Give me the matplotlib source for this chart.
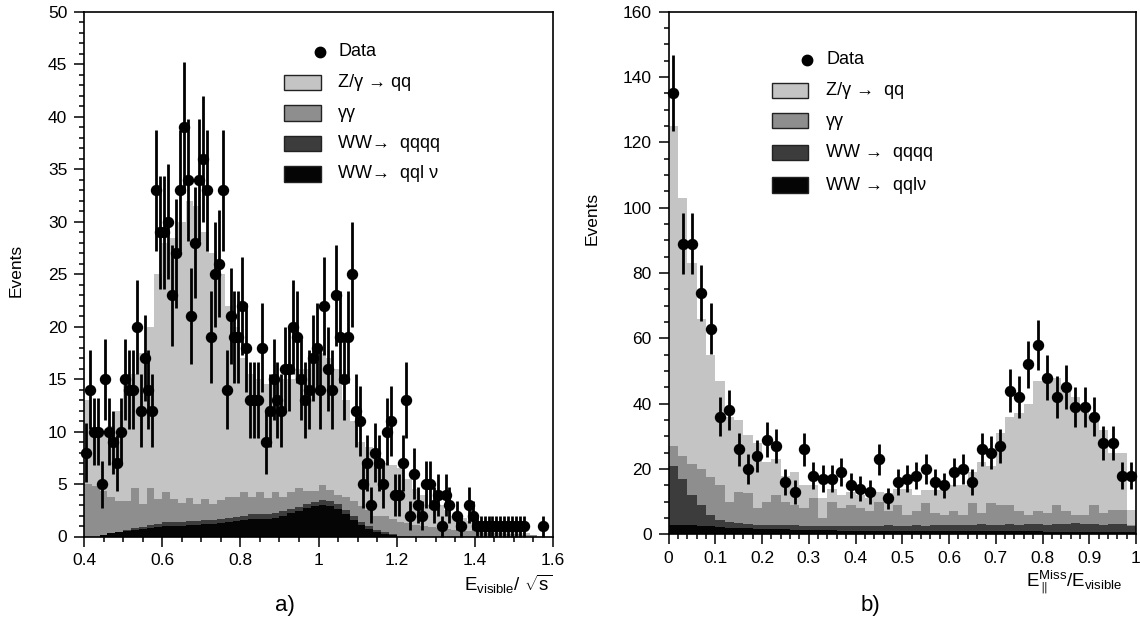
import matplotlib
matplotlib.use('Agg')
import matplotlib.pyplot as plt
import numpy as np
from matplotlib.patches import Rectangle
from matplotlib.lines import Line2D
from matplotlib.ticker import MultipleLocator, FuncFormatter

plt.rcParams['font.family'] = ['Liberation Sans', 'DejaVu Sans']
plt.rcParams['mathtext.fontset'] = 'custom'
plt.rcParams['mathtext.rm'] = 'Liberation Sans'
plt.rcParams['mathtext.it'] = 'Liberation Sans:italic'

# ---- panel a): E_visible / sqrt(s), data in bins of 0.01 from 0.40
data_a = [8, 14, 10, 10, 5, 15, 10, 9, 7, 10,
          15, 14, 14, 20, 12, 17, 14, 12, 33, 29,
          29, 30, 23, 27, 33, 39, 34, 21, 28, 34,
          36, 33, 19, 25, 26, 33, 14, 21, 19, 19,
          22, 18, 13, 13, 13, 18, 9, 12, 15, 13,
          12, 16, 16, 20, 19, 15, 13, 14, 17, 18,
          14, 22, 16, 14, 23, 19, 15, 19, 25, 12,
          11, 5, 7, 3, 8, 7, 5, 10, 11, 4,
          4, 7, 13, 2, 6, 3, 2, 5, 5, 3,
          4, 1, 4, 3, 0, 2, 1, 0, 3, 2,
          1, 1, 1, 1, 1, 1, 1, 1, 1, 1,
          1, 1, 1, 0, 0, 0, 0, 1]

# stacked MC heights (cumulative), bins of 0.02 from 0.40 to 1.60
top_zqq_a = [13, 10, 10, 10.5, 12, 15, 15.5, 17.5, 20, 25,
             28, 28.5, 30, 32, 31.5, 29, 27, 25, 22, 20,
             17, 15.5, 15, 14.5, 14.5, 15, 15, 16, 16, 17.5,
             17.5, 17, 16, 13, 11, 9, 8.5, 7.5, 7, 6.8,
             6.5, 5.5, 4.5, 4, 3, 3, 2.5, 2, 1.8, 1.5,
             0.8, 0.6, 0.6, 0.5, 0.5, 0.4, 0.3, 0.1, 0, 0]
top_gg_a = [5.0, 4.8, 4.3, 3.8, 3.4, 3.4, 4.6, 3.1, 4.6, 3.6,
            4.2, 3.6, 3.2, 3.7, 3.1, 3.6, 3.1, 3.5, 3.8, 3.8,
            4.2, 3.8, 4.2, 3.7, 4.2, 3.8, 4.2, 4.6, 4.3, 4.3,
            4.9, 4.4, 4.0, 3.8, 3.4, 2.9, 2.5, 2.0, 2.0, 1.7,
            1.4, 1.3, 1.1, 1.0, 0.9, 0.8, 0.7, 0.6, 0.5, 0.5,
            0.4, 0.3, 0.3, 0.3, 0.2, 0.2, 0.1, 0.1, 0, 0]
top_qqqq_a = [0, 0, 0.1, 0.3, 0.4, 0.6, 0.8, 0.9, 1.1, 1.2,
              1.4, 1.4, 1.4, 1.5, 1.5, 1.6, 1.6, 1.7, 1.8, 1.9,
              2.0, 2.1, 2.1, 2.1, 2.2, 2.4, 2.6, 2.8, 3.1, 3.3,
              3.5, 3.4, 3.1, 2.5, 2.0, 1.4, 1.0, 0.6, 0.4, 0.2,
              0, 0, 0, 0, 0, 0, 0, 0, 0, 0,
              0, 0, 0, 0, 0, 0, 0, 0, 0, 0]
top_qqlv_a = [0, 0, 0.1, 0.3, 0.4, 0.5, 0.6, 0.7, 0.8, 0.9,
              1.0, 1.0, 1.0, 1.1, 1.1, 1.2, 1.2, 1.3, 1.4, 1.5,
              1.6, 1.7, 1.7, 1.7, 1.8, 2.0, 2.2, 2.4, 2.7, 2.9,
              3.0, 2.9, 2.6, 2.1, 1.6, 1.1, 0.7, 0.4, 0.2, 0.1,
              0, 0, 0, 0, 0, 0, 0, 0, 0, 0,
              0, 0, 0, 0, 0, 0, 0, 0, 0, 0]

# ---- panel b): E_miss_par / E_visible, bins of 0.02 from 0 to 1
data_b = [135, 89, 89, 74, 63, 36, 38, 26, 20, 24,
          29, 27, 16, 13, 26, 18, 17, 17, 19, 15,
          14, 13, 23, 11, 16, 17, 18, 20, 16, 15,
          19, 20, 16, 26, 25, 27, 44, 42, 52, 58,
          48, 42, 45, 39, 39, 36, 28, 28, 18, 18]
top_zqq_b = [125, 103, 83, 66, 55, 47, 36, 35, 30.5, 28,
             22, 23, 18, 19, 15, 15, 11, 14, 12, 13,
             12, 11, 13, 12.5, 14, 14, 12, 13.5, 13.5, 13.5,
             15, 15, 19, 22, 21, 31, 36, 37, 40, 47,
             47, 48, 44, 42, 39, 35, 32, 25, 25, 7.5]
top_gg_b = [27, 24, 21.5, 20, 17.5, 15, 10, 13, 12.5, 8,
            10, 12, 10, 9, 8, 11, 5, 10, 8, 9,
            8, 7, 10, 7, 9, 6, 7, 9.5, 6.5, 6,
            7, 6, 9.5, 6.5, 9.5, 9, 9, 7, 6, 7,
            6.5, 9, 7, 6, 6, 9, 6.5, 7.5, 7.5, 3]
top_qqqq_b = [21, 17, 12, 9, 6, 4.5, 3.8, 3.4, 3.2, 3.0,
              3.0, 2.8, 2.8, 2.7, 2.6, 2.6, 2.5, 2.5, 2.4, 2.4,
              2.5, 2.6, 2.4, 2.8, 2.6, 2.5, 2.7, 2.6, 2.8, 2.9,
              2.7, 3.0, 2.9, 3.1, 2.8, 3.0, 3.2, 3.0, 3.1, 3.3,
              3.0, 3.2, 3.1, 3.4, 3.2, 3.3, 3.0, 3.2, 3.1, 2.5]
top_qqlv_b = [3.0, 3.0, 2.8, 2.6, 2.4, 2.2, 2.0, 1.9, 1.8, 1.7,
              1.6, 1.5, 1.5, 1.4, 1.3, 1.3, 1.2, 1.2, 1.1, 1.1,
              1.0, 1.0, 1.0, 1.0, 1.0, 1.0, 1.0, 1.0, 1.0, 1.0,
              0.9, 0.9, 0.9, 0.9, 0.9, 0.9, 0.9, 0.9, 0.9, 0.9,
              0.8, 0.8, 0.8, 0.8, 0.8, 0.8, 0.8, 0.8, 0.8, 0.8]

legend_labels_a = ['Data', 'Z/\u03b3 \u2192 qq', '\u03b3\u03b3',
                   'WW\u2192  qqqq', 'WW\u2192  qql \u03bd']
legend_labels_b = ['Data', 'Z/\u03b3 \u2192  qq', '\u03b3\u03b3',
                   'WW \u2192  qqqq', 'WW \u2192  qql\u03bd']

c_zqq = '#c4c4c4'
c_gg = '#8e8e8e'
c_qqqq = '#3c3c3c'
c_qqlv = '#050505'
fills = [c_zqq, c_gg, c_qqqq, c_qqlv]

W, H = 1140, 630
fig = plt.figure(figsize=(W / 100, H / 100), dpi=100)


def draw_panel(rect, edges, stacks, data_edges, data, xlim, ylim,
               xmaj, xmin, ymaj, ymin):
    ax = fig.add_axes(rect)
    for vals, col in zip(stacks, fills):
        ax.stairs(vals, edges, fill=True, color=col, lw=0)
    counts = np.asarray(data, dtype=float)
    centers = 0.5 * (data_edges[:-1] + data_edges[1:])
    keep = counts > 0
    ax.errorbar(centers[keep], counts[keep], yerr=np.sqrt(counts[keep]),
                fmt='o', color='black', ms=7.2, elinewidth=2,
                capsize=0, zorder=5, clip_on=False)
    ax.set_xlim(*xlim)
    ax.set_ylim(*ylim)
    ax.xaxis.set_major_locator(MultipleLocator(xmaj))
    ax.xaxis.set_minor_locator(MultipleLocator(xmin))
    ax.yaxis.set_major_locator(MultipleLocator(ymaj))
    ax.yaxis.set_minor_locator(MultipleLocator(ymin))
    ax.xaxis.set_major_formatter(FuncFormatter(lambda v, p: '%g' % round(v, 3)))
    ax.tick_params(which='both', direction='out', top=False, right=False,
                   labelsize=12.5, width=1.1, pad=5)
    ax.tick_params(which='major', length=7)
    ax.tick_params(which='minor', length=3.5)
    for s in ax.spines.values():
        s.set_linewidth(1.2)
    return ax


def fx(px):
    return px / W


def fy(py):
    return 1 - py / H


def draw_legend(labels, mark_x, sw_x0, sw_x1, text_x, data_y, rows_y):
    fig.add_artist(Line2D([fx(mark_x)], [fy(data_y)], marker='o', ms=7.5,
                          color='black', ls='none', transform=fig.transFigure))
    fig.text(fx(text_x), fy(data_y), labels[0], fontsize=13, va='center')
    for lab, ry, col in zip(labels[1:], rows_y, fills):
        fig.add_artist(Rectangle((fx(sw_x0), fy(ry + 7.5)), fx(sw_x1 - sw_x0),
                                 15 / H, facecolor=col, edgecolor='#222222',
                                 lw=1, transform=fig.transFigure))
        fig.text(fx(text_x), fy(ry), lab, fontsize=13, va='center')


edges_a = np.linspace(0.4, 1.6, len(top_zqq_a) + 1)
dedges_a = np.linspace(0.4, 0.4 + 0.01 * len(data_a), len(data_a) + 1)
ax_a = draw_panel([84 / W, 93.5 / H, 469 / W, 524.5 / H], edges_a,
                  [top_zqq_a, top_gg_a, top_qqqq_a, top_qqlv_a],
                  dedges_a, data_a, (0.4, 1.6), (0, 50), 0.2, 0.05, 5, 1)

edges_b = np.linspace(0, 1, len(top_zqq_b) + 1)
ax_b = draw_panel([668.5 / W, 95.7 / H, 467.5 / W, 522.6 / H], edges_b,
                  [top_zqq_b, top_gg_b, top_qqqq_b, top_qqlv_b],
                  edges_b, data_b, (0, 1), (0, 160), 0.1, 0.02, 20, 5)

draw_legend(legend_labels_a, 320, 284, 321, 338, 52, [82.5, 113, 143.5, 174])
draw_legend(legend_labels_b, 807, 772, 808, 826, 60, [90.5, 121, 152.5, 185])

fig.text(fx(16), fy(270), 'Events', rotation=90, fontsize=12.5,
         ha='center', va='center')
fig.text(fx(592), fy(218), 'Events', rotation=90, fontsize=12.5,
         ha='center', va='center')
fig.text(fx(553), fy(584), r'E$_{\mathrm{visible}}$/ $\sqrt{\mathrm{s}}$',
         fontsize=13.5, ha='right', va='center')
fig.text(fx(1122), fy(582),
         r'E$_{\parallel}^{\mathrm{Miss}}$/E$_{\mathrm{visible}}$',
         fontsize=13.5, ha='right', va='center')
fig.text(fx(285), fy(605), 'a)', fontsize=16, ha='center', va='center')
fig.text(fx(870), fy(605), 'b)', fontsize=16, ha='center', va='center')

fig.savefig('out.png', dpi=100)
